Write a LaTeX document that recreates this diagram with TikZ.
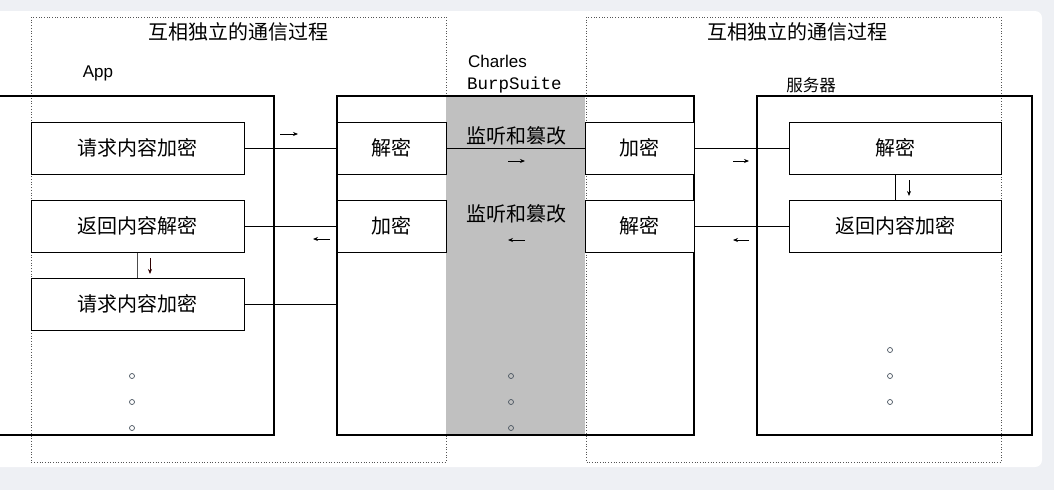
\documentclass[tikz,border=0pt]{standalone}
\usepackage{fontspec}
\newfontfamily\cjk{Noto Sans CJK SC}
\newfontfamily\lsans{Liberation Sans}
\newfontfamily\lmono{Liberation Mono}
\usetikzlibrary{arrows.meta}
\definecolor{pagebg}{HTML}{EEF0F4}
\definecolor{midgray}{HTML}{C0C0C0}
\definecolor{dotcol}{HTML}{4A5560}
\definecolor{frame}{HTML}{555555}
\tikzset{
  bigbox/.style={draw=black,line width=1.2pt,rectangle,inner sep=0pt},
  inbox/.style={draw=black,line width=1pt,rectangle,inner sep=0pt,minimum height=52pt,font=\cjk\fontsize{20}{20}\selectfont},
  wide/.style={inbox,minimum width=213pt},
  narrow/.style={inbox,minimum width=109pt},
  link/.style={line width=1pt,black},
  tiny/.style={line width=0.8pt,-{Stealth[length=5pt,width=4pt]}},
  dframe/.style={draw=frame,line width=0.7pt,dotted},
  dot/.style={circle,draw=dotcol,line width=0.7pt,minimum size=5pt,inner sep=0pt},
  ttl/.style={font=\cjk\fontsize{20}{20}\selectfont,inner sep=0pt},
}
\begin{document}
\begin{tikzpicture}[x=1pt,y=-1pt]
\useasboundingbox (0,0) rectangle (1054,490);
\clip (0,0) rectangle (1054,490);
\fill[pagebg] (0,0) rectangle (1054,490);
\fill[white,rounded corners=7pt] (-20,11) rectangle (1042,467);
% dotted frames
\draw[dframe] (31,17) rectangle (446,462);
\draw[dframe] (586,17) rectangle (1001,462);
% titles
\node[ttl] (t1) at (238,32) {互相独立的通信过程};
\node[ttl] (t2) at (797,32) {互相独立的通信过程};
\node[font=\lsans\fontsize{17}{17}\selectfont,inner sep=0pt] (lapp) at (98,73) {App};
\node[font=\lsans\fontsize{17}{17}\selectfont,inner sep=0pt,anchor=west] (lch) at (468,61) {Charles};
\node[font=\lmono\fontsize{17.5}{17.5}\selectfont,inner sep=0pt,anchor=west] (lbs) at (467,85) {BurpSuite};
\node[font=\cjk\fontsize{16.5}{16.5}\selectfont,inner sep=0pt] (lsv) at (811,85) {服务器};
% gray column
\node[fill=midgray,minimum width=139pt,minimum height=339pt,inner sep=0pt] (mid) at (515.5,265.5) {};
% big boxes
\node[bigbox,minimum width=294pt,minimum height=339pt] (app) at (127,265.5) {};
\node[bigbox,minimum width=357pt,minimum height=339pt] (proxy) at (515.5,265.5) {};
\node[bigbox,minimum width=275pt,minimum height=339pt] (server) at (894.5,265.5) {};
% app inner
\node[wide,fill=white] (a1) at (137.5,148) {请求内容加密};
\node[wide,fill=white] (a2) at (137.5,226) {返回内容解密};
\node[wide,fill=white] (a3) at (137.5,304) {请求内容加密};
% proxy inner
\node[narrow,fill=white] (p1) at (391.5,148) {解密};
\node[narrow,fill=white] (p2) at (391.5,226) {加密};
\node[narrow,fill=white] (q1) at (639.5,148) {加密};
\node[narrow,fill=white] (q2) at (639.5,226) {解密};
% server inner
\node[wide,minimum width=212pt,fill=white] (s1) at (895,148) {解密};
\node[wide,minimum width=212pt,fill=white] (s2) at (895,226) {返回内容加密};
% middle texts
\node[ttl] (m1) at (516,136) {监听和篡改};
\node[ttl] (m2) at (516,214) {监听和篡改};
% connectors
\draw[link] (a1.east) -- (p1.west);
\draw[link] (p1.east) -- (q1.west);
\draw[link] (q1.east) -- (s1.west);
\draw[link] (a2.east) -- (p2.west);
\draw[link] (q2.east) -- (s2.west);
\draw[link] (a3.east) -- (a3.east -| proxy.west);
\draw[line width=0.9pt,black!70] (a2.south) -- (a3.north);
\draw[line width=0.9pt,black] (s1.south) -- (s2.north);
% direction arrows
\draw[tiny] (280,134) -- (298,134);
\draw[tiny] (508,161) -- (525,161);
\draw[tiny] (733,161) -- (749,161);
\draw[tiny] (330,239) -- (313,239);
\draw[tiny] (525,240) -- (508,240);
\draw[tiny] (749,240) -- (733,240);
\draw[tiny,draw=black!70!red!60!black] (150,258) -- (150,274);
\draw[tiny] (909,180) -- (909,196);
% dots
\foreach \y [count=\i] in {376,402,428}{
  \node[dot] (da\i) at (132,\y) {};
  \node[dot] (dm\i) at (511,\y) {};
}
\foreach \y [count=\i] in {350,376,402}{
  \node[dot] (ds\i) at (890,\y) {};
}
\end{tikzpicture}
\end{document}
